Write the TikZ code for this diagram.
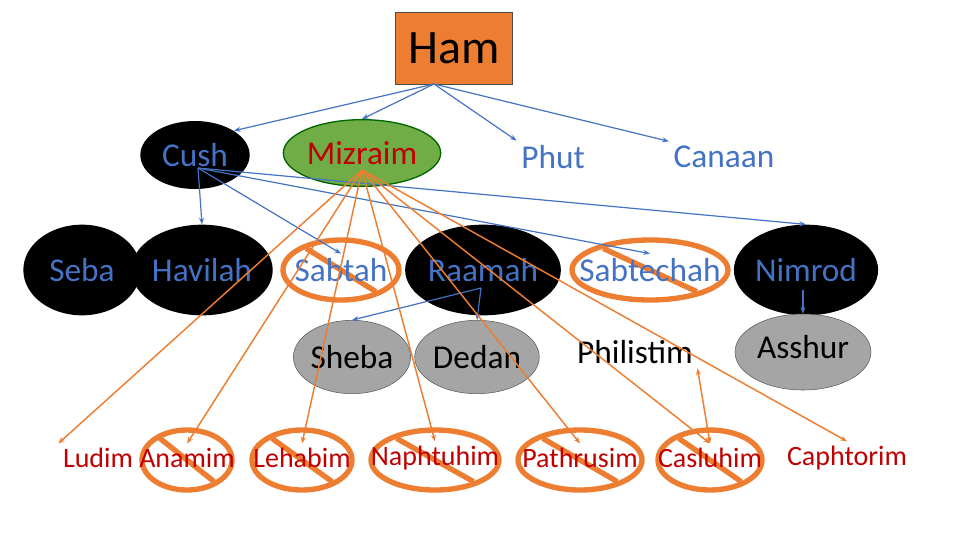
\documentclass[tikz,border=0pt]{standalone}
\usepackage{fontspec}
\setmainfont{Carlito}
\usetikzlibrary{arrows.meta,shapes.geometric}
\definecolor{tblue}{HTML}{4472C4}
\definecolor{tred}{HTML}{C00000}
\definecolor{torange}{HTML}{ED7D31}
\definecolor{tgreen}{HTML}{70AD47}
\definecolor{tgray}{HTML}{A5A5A5}
\begin{document}
\begin{tikzpicture}[x=0.75pt,y=-0.75pt,
 bl/.style={font=\fontsize{25}{27}\selectfont,text=tblue},
 rd/.style={font=\fontsize{21}{23}\selectfont,text=tred},
 blk/.style={ellipse,fill=black,draw=none,inner sep=0pt},
 gry/.style={ellipse,fill=tgray,draw=gray!70!black,thin,inner sep=0pt},
 ba/.style={-{Stealth[length=5pt]},tblue,line width=0.9pt},
 oa/.style={-{Stealth[length=5pt]},torange,line width=1.1pt},
 nosign/.style={torange,line width=4pt}]
\useasboundingbox (0,0) rectangle (960,540);
% prohibition signs
\foreach \x/\y/\rx/\ry in {341/270/58/30, 650/270/78/30, 187/460/45/30, 302/460/50/30, 435/460/64/30, 580/460/62/30, 710/460/52/30}{
  \draw[nosign] (\x,\y) ellipse ({\rx} and {\ry});
  \draw[nosign] ({\x-0.6*\rx},{\y-0.72*\ry}) -- ({\x+0.6*\rx},{\y+0.72*\ry});
}
\node[draw=gray!60!black,fill=torange,minimum width=88pt,minimum height=54pt,font=\fontsize{36}{38}\selectfont] (ham) at (454,48) {Ham};
\node[blk,minimum width=82pt,minimum height=51pt,bl] (cush) at (195,155) {Cush};
\node[ellipse,fill=tgreen,draw=green!40!black,line width=1pt,minimum width=118pt,minimum height=50pt,inner sep=0pt,text=tred,font=\fontsize{25}{27}\selectfont] (miz) at (362,153) {Mizraim};
\node[bl] (phut) at (553,157) {Phut};
\node[bl] (canaan) at (724,157) {Canaan};
\node[blk,minimum width=88pt,minimum height=68pt,bl] (seba) at (82,270) {Seba};
\node[blk,minimum width=88pt,minimum height=68pt,bl] (hav) at (202,270) {Havilah};
\node[bl] (sabtah) at (341,270) {Sabtah};
\node[blk,minimum width=104pt,minimum height=68pt,bl] (raamah) at (483,270) {Raamah};
\node[bl] (sabtechah) at (650,270) {Sabtechah};
\node[blk,minimum width=96pt,minimum height=68pt,bl] (nimrod) at (806,270) {Nimrod};
\node[gry,minimum width=82pt,minimum height=55pt,font=\fontsize{25}{27}\selectfont] (sheba) at (352,357) {Sheba};
\node[gry,minimum width=86pt,minimum height=55pt,font=\fontsize{25}{27}\selectfont] (dedan) at (477,357) {Dedan};
\node[font=\fontsize{25}{27}\selectfont] (phil) at (635,352) {Philistim};
\node[gry,minimum width=102pt,minimum height=57pt,font=\fontsize{25}{27}\selectfont] (asshur) at (803,352) {\raisebox{8pt}{Asshur}};
\node[rd] (ludim) at (98,458) {Ludim};
\node[rd] (anamim) at (187,458) {Anamim};
\node[rd] (lehabim) at (302,458) {Lehabim};
\node[rd] (naph) at (435,458) {Naphtuhim};
\node[rd] (path) at (580,458) {Pathrusim};
\node[rd] (cas) at (710,458) {Casluhim};
\node[rd] (caph) at (847,458) {Caphtorim};
% blue arrows
\coordinate (h0) at (434,84);
\draw[ba] (h0) -- (cush.north east);
\draw[ba] (h0) -- (miz.north);
\draw[ba] (h0) -- (phut.north west);
\draw[ba] (h0) -- (canaan.north west);
\coordinate (c0) at (198,168);
\draw[ba] (c0) -- (hav.north);
\draw[ba] (c0) -- (sabtah.north);
\draw[ba] (c0) -- (sabtechah.north);
\draw[ba] (c0) -- (nimrod.north);
\coordinate (r0) at (481,288);
\draw[ba] (r0) -- (sheba.north);
\draw[ba] (r0) -- (dedan.north);
\coordinate (n0) at (803,290);
\draw[ba] (n0) -- (asshur.north);
% orange arrows
\coordinate (m0) at (362,170);
\draw[oa] (m0) -- (ludim.north west);
\draw[oa] (m0) -- (anamim.north);
\draw[oa] (m0) -- (lehabim.north);
\draw[oa] (m0) -- (naph.north);
\draw[oa] (m0) -- (path.north);
\draw[oa] (m0) -- (cas.north);
\draw[oa] (m0) -- (caph.north);
\draw[oa,{Stealth[length=5pt]}-{Stealth[length=5pt]}] (phil.south east) -- (cas.north);
\end{tikzpicture}
\end{document}
